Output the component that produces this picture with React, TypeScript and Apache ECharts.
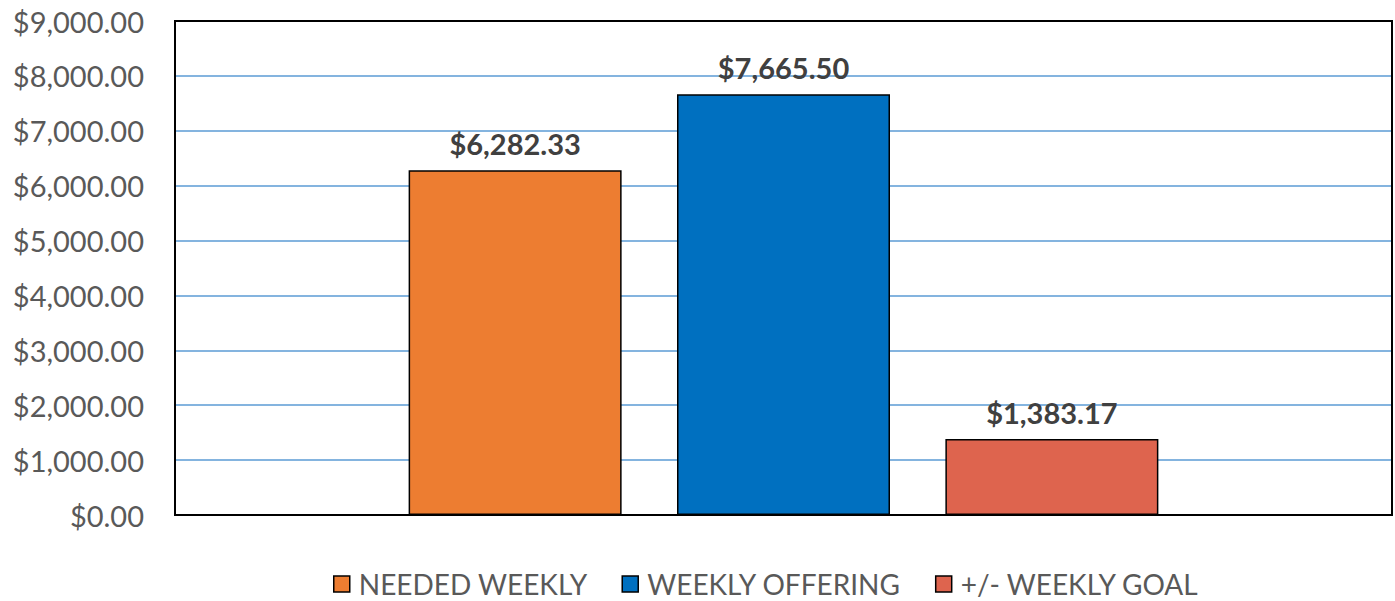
import React, { useEffect, useRef } from "react";
import * as echarts from "echarts";

const seriesNames = ["NEEDED WEEKLY", "WEEKLY OFFERING", "+/- WEEKLY GOAL"];
const seriesValues = [6282.33, 7665.5, 1383.17];
const seriesColors = ["#ED7D31", "#0070C0", "#DE644E"];
const categories = [""];
const yTicks = { min: 0, max: 9000, interval: 1000 };

const W = 1395;
const H = 601;
const G = { left: 175, right: 3, top: 21, bottom: 86 };

const fmt = (v: number) =>
  "$" + v.toLocaleString("en-US", { minimumFractionDigits: 2, maximumFractionDigits: 2 });

export default function App() {
  const ref = useRef<HTMLDivElement>(null);
  useEffect(() => {
    if (!ref.current) return;
    const chart = echarts.init(ref.current, undefined, { renderer: "svg" });
    const font = "Lato";
    chart.setOption({
      animation: false,
      grid: { ...G },
      graphic: [
        {
          type: "rect",
          z: 100,
          silent: true,
          shape: { x: G.left, y: G.top, width: W - G.left - G.right, height: H - G.top - G.bottom },
          style: { fill: "none", stroke: "#000", lineWidth: 2 },
        },
      ],
      legend: {
        top: 568,
        left: 333,
        itemWidth: 16,
        itemHeight: 16,
        itemGap: 34,
        icon: "rect",
        padding: 0,
        textStyle: { fontFamily: font, fontSize: 28, lineHeight: 32, color: "#595959", padding: [0, 0, 0, 4] },
        data: seriesNames.map((n, i) => ({
          name: n,
          itemStyle: { color: seriesColors[i], borderColor: "#000", borderWidth: 1.5 },
        })),
      },
      xAxis: {
        type: "category",
        data: categories,
        axisLine: { show: false },
        axisTick: { show: false },
        axisLabel: { show: false },
      },
      yAxis: {
        type: "value",
        min: yTicks.min,
        max: yTicks.max,
        interval: yTicks.interval,
        axisLine: { show: false },
        axisTick: { show: false },
        axisLabel: {
          formatter: (v: number) => fmt(v),
          fontFamily: font,
          fontSize: 29,
          color: "#595959",
          margin: 31,
        },
        splitLine: { lineStyle: { color: "#5B9BD5", width: 1.5 } },
      },
      series: seriesNames.map((n, i) => ({
        name: n,
        type: "bar",
        data: [seriesValues[i]],
        barWidth: 213,
        barGap: "26%",
        itemStyle: { color: seriesColors[i], borderColor: "#000", borderWidth: 1.5 },
        label: {
          show: true,
          position: "top",
          distance: 12,
          formatter: (p: any) => fmt(p.value),
          fontFamily: font,
          fontSize: 29,
          fontWeight: "bold",
          color: "#404040",
        },
      })),
    });
    return () => chart.dispose();
  }, []);
  return <div ref={ref} style={{ position: "absolute", left: 0, top: 0, width: W, height: H }} />;
}
